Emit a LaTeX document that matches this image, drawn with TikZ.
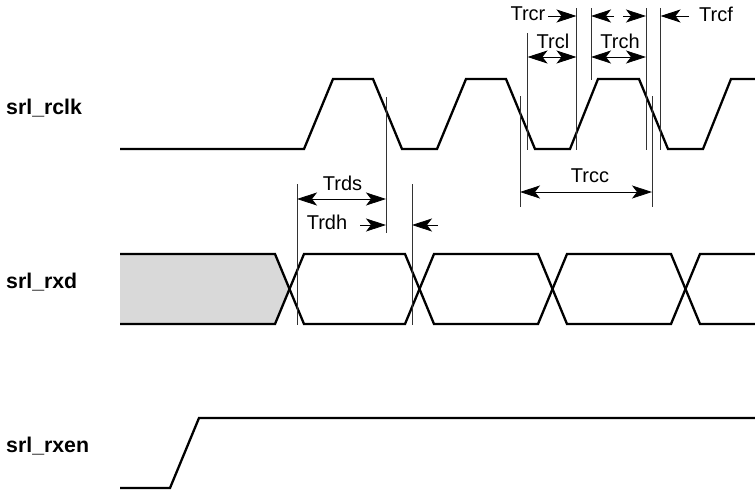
\documentclass[tikz,border=0pt]{standalone}
\usepackage{fontspec}
\setmainfont{Liberation Sans}
\usetikzlibrary{arrows.meta}
\definecolor{greyfill}{gray}{0.85}
\tikzset{
  wave/.style={line width=2.3pt,line join=miter},
  ext/.style={line width=0.7pt,black!80},
  dim/.style={line width=0.8pt,{Stealth[length=20pt,width=13pt,inset=5pt]}-{Stealth[length=20pt,width=13pt,inset=5pt]}},
  dimr/.style={line width=0.8pt,-{Stealth[length=20pt,width=13pt,inset=5pt]}},
  lab/.style={font=\fontsize{20}{22}\selectfont,inner sep=0pt},
  sig/.style={font=\fontsize{21.3}{23}\selectfont\bfseries,inner sep=0pt,anchor=west},
}
\begin{document}
\begin{tikzpicture}[x=1pt,y=-1pt]
\useasboundingbox (0,0) rectangle (755,493);
% data shading
\fill[greyfill] (120,254) -- (275,254) -- (290,289) -- (275,324) -- (120,324) -- cycle;
% waveforms
\draw[wave] (120,149) -- (304,149) -- (333,79) -- (373,79) -- (402,149) -- (437,149) -- (466,79) -- (506,79) -- (535,149) -- (570,149) -- (598,79) -- (639,79) -- (668,149) -- (703,149) -- (731,79) -- (755,79);
\draw[wave] (120,254) -- (275,254) -- (304,324) -- (405,324) -- (434,254) -- (538,254) -- (567,324) -- (671,324) -- (700,254) -- (755,254);
\draw[wave] (120,324) -- (275,324) -- (304,254) -- (405,254) -- (434,324) -- (538,324) -- (567,254) -- (671,254) -- (700,324) -- (755,324);
\draw[wave] (120,488) -- (170,488) -- (199,418) -- (755,418);
% extension lines
\draw[ext] (297,184) -- (297,325);
\draw[ext] (386,97) -- (386,233);
\draw[ext] (412,184) -- (412,325);
\draw[ext] (520,96) -- (520,207);
\draw[ext] (527.5,33) -- (527.5,150);
\draw[ext] (576.5,8) -- (576.5,150);
\draw[ext] (591,8) -- (591,80);
\draw[ext] (646,8) -- (646,150);
\draw[ext] (652,96) -- (652,207);
\draw[ext] (660.5,8) -- (660.5,150);
% endpoints
\coordinate (trdsL) at (297,199); \coordinate (trdsR) at (386,199);
\coordinate (trdhA) at (360,225); \coordinate (trdhB) at (386,225);
\coordinate (trdhC) at (438,225); \coordinate (trdhD) at (412,225);
\coordinate (trccL) at (520,192); \coordinate (trccR) at (652,192);
\coordinate (trclL) at (527.5,57); \coordinate (trclR) at (576.5,57);
\coordinate (trchL) at (591,57); \coordinate (trchR) at (646,57);
\coordinate (trcrA) at (548,16); \coordinate (trcrB) at (576.5,16);
\coordinate (tophA) at (614,16); \coordinate (tophB) at (591,16);
\coordinate (tophC) at (623,16); \coordinate (tophD) at (646,16);
\coordinate (trcfA) at (689,16); \coordinate (trcfB) at (660.5,16);
% dimension arrows
\draw[dim] (trdsL) -- (trdsR);
\draw[dimr] (trdhA) -- (trdhB);
\draw[dimr] (trdhC) -- (trdhD);
\draw[dim] (trccL) -- (trccR);
\draw[dim] (trclL) -- (trclR);
\draw[dim] (trchL) -- (trchR);
\draw[dimr] (trcrA) -- (trcrB);
\draw[dimr] (tophA) -- (tophB);
\draw[dimr] (tophC) -- (tophD);
\draw[dimr] (trcfA) -- (trcfB);
% labels
\node[lab] (tTrcr) at (528,14) {Trcr};
\node[lab] (tTrcl) at (553,41) {Trcl};
\node[lab] (tTrch) at (620,41) {Trch};
\node[lab] (tTrcf) at (716,14) {Trcf};
\node[lab] (tTrcc) at (590,176) {Trcc};
\node[lab] (tTrds) at (342.5,183.5) {Trds};
\node[lab] (tTrdh) at (327,222.5) {Trdh};
\node[sig] (srclk) at (6,108) {srl\_rclk};
\node[sig] (srxd) at (6,282) {srl\_rxd};
\node[sig] (srxen) at (6,446) {srl\_rxen};
\end{tikzpicture}
\end{document}
